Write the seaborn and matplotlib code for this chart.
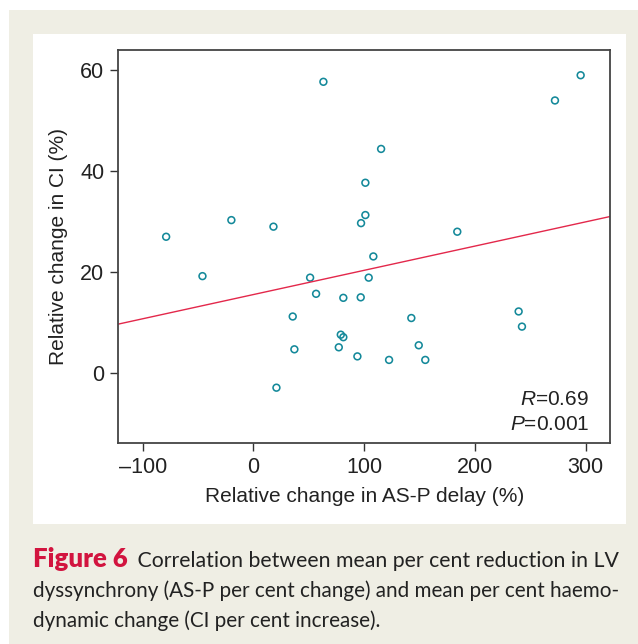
import numpy as np
import pandas as pd
import matplotlib
matplotlib.use("Agg")
import matplotlib.pyplot as plt
from matplotlib.patches import Rectangle
import seaborn as sns

# ---- data ----
as_p_change = [63.2, 115.3, 101.1, 101.1, 97.2, -19.9, 18.1, -78.8, 295.5, 272.3,
               184.1, -46.0, 51.2, 56.6, 81.2, 96.9, 104.1, 108.3, 35.5, 37.0,
               78.9, 81.2, 77.1, 93.9, 122.5, 20.8, 142.6, 149.3, 155.2, 239.5, 242.5]
ci_change = [57.6, 44.3, 37.6, 31.2, 29.6, 30.2, 28.9, 26.9, 58.9, 53.9,
             27.9, 19.1, 18.8, 15.6, 14.8, 14.9, 18.8, 23.0, 11.1, 4.6,
             7.5, 7.0, 5.0, 3.2, 2.5, -3.0, 10.8, 5.4, 2.5, 12.1, 9.1]
fit_intercept = 15.45
fit_slope = 0.048
x_ticks = [-100, 0, 100, 200, 300]
y_ticks = [0, 20, 40, 60]
stat_r = "$\\it{R}$=0.69"
stat_p = "$\\it{P}$=0.001"

df = pd.DataFrame({"x": as_p_change, "y": ci_change})

sns.set_theme(style="white")
plt.rcParams["font.family"] = ["Liberation Sans", "DejaVu Sans"]
plt.rcParams["mathtext.fontset"] = "custom"
plt.rcParams["mathtext.rm"] = "Liberation Sans"
plt.rcParams["mathtext.it"] = "Liberation Sans:italic"

W, H = 638, 644
fig = plt.figure(figsize=(W / 100, H / 100), dpi=100, facecolor="white")

beige = "#EFEEE4"
fig.patches.append(Rectangle((9 / W, 0), 1, 1 - 10 / H, transform=fig.transFigure,
                             facecolor=beige, edgecolor="none", zorder=-10))
fig.patches.append(Rectangle((33 / W, 1 - 524 / H), (626 - 33) / W, (524 - 34) / H,
                             transform=fig.transFigure, facecolor="white",
                             edgecolor="none", zorder=-9))

ax = fig.add_axes([118.3 / W, 1 - 442.7 / H, (610 - 118.3) / W, (442.7 - 50) / H])
ax.set_facecolor("white")

xlim = (-122, 322)
ylim = (-13.9, 63.9)

sns.scatterplot(data=df, x="x", y="y", ax=ax, marker="o", s=24,
                facecolors="none", edgecolor="#14899A", linewidth=1.15, legend=False)

lx = np.array(xlim)
sns.lineplot(x=lx, y=fit_intercept + fit_slope * lx, ax=ax, color="#E3284B", linewidth=1.0)

ax.set_xlim(*xlim)
ax.set_ylim(*ylim)
ax.set_xticks(x_ticks)
ax.set_yticks(y_ticks)
ax.set_xticklabels(["\u2013100" if t < 0 else str(t) for t in x_ticks])
ax.tick_params(axis="both", which="both", direction="out", length=6, width=1.0,
               color="#333333", labelsize=15.5, labelcolor="#222222", pad=4,
               bottom=True, left=True)
for s in ax.spines.values():
    s.set_color("#444444")
    s.set_linewidth(1.3)
ax.set_xlabel("Relative change in AS-P delay (%)", fontsize=15, color="#222222", labelpad=7)
ax.set_ylabel("Relative change in CI (%)", fontsize=15, color="#222222", labelpad=9)

ax.text((589 - 118.3) / 491.7, (442.7 - 405) / 392.7, stat_r, transform=ax.transAxes,
        ha="right", va="baseline", fontsize=15, color="#222222")
ax.text((589 - 118.3) / 491.7, (442.7 - 430.5) / 392.7, stat_p, transform=ax.transAxes,
        ha="right", va="baseline", fontsize=15, color="#222222")

cap_font = ["Lato", "DejaVu Sans"]
t1 = fig.text(33 / W, 1 - 567 / H, "Figure 6", fontsize=18.5, fontweight="heavy",
              color="#D2143F", family=cap_font, va="baseline", ha="left")
ax.annotate(" Correlation between mean per cent reduction in LV",
            xy=(1, 0), xycoords=t1, xytext=(3, 0), textcoords="offset points",
            va="bottom", ha="left",
            fontsize=15.3, family=cap_font, color="#222222", annotation_clip=False)
fig.text(33 / W, 1 - 597 / H, "dyssynchrony (AS-P per cent change) and mean per cent haemo-",
         fontsize=14.9, family=cap_font, color="#222222", va="baseline", ha="left")
fig.text(33 / W, 1 - 627 / H, "dynamic change (CI per cent increase).",
         fontsize=14.9, family=cap_font, color="#222222", va="baseline", ha="left")

fig.savefig("out.png", dpi=100, facecolor=fig.get_facecolor())
